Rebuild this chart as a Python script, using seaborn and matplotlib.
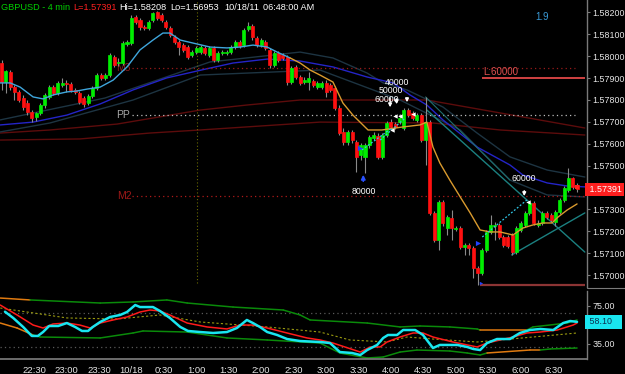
import matplotlib
matplotlib.use("Agg")
import matplotlib.pyplot as plt
import seaborn as sns
import pandas as pd

# ---------------- data ----------------
# 4-minute bars, bar 0 = 22:00
tick_pos = [7.5, 15, 22.5, 30, 37.5, 45, 52.5, 60, 67.5, 75, 82.5, 90, 97.5, 105, 112.5, 120, 127.5]
tick_labels = ["22:30", "23:00", "23:30", "10/18", "0:30", "1:00", "1:30", "2:00", "2:30",
               "3:00", "3:30", "4:00", "4:30", "5:00", "5:30", "6:00", "6:30"]
price_ticks = [1.570, 1.571, 1.572, 1.573, 1.574, 1.575, 1.576, 1.577, 1.578, 1.579, 1.580, 1.581, 1.582]

opens = [
    1.57969, 1.57882, 1.57928, 1.57859, 1.57837, 1.57809, 1.57786, 1.57745, 1.57722, 1.57741,
    1.57777, 1.57814, 1.57859, 1.57832, 1.57869, 1.57878, 1.57873, 1.57846, 1.57832, 1.57809,
    1.57786, 1.57818, 1.57855, 1.57914, 1.57901, 1.57914, 1.57997, 1.57969, 1.57969, 1.58056,
    1.58060, 1.58179, 1.58166, 1.58134, 1.58129, 1.58166, 1.58202, 1.58188, 1.58156, 1.58129,
    1.58088, 1.58065, 1.58051, 1.58042, 1.58006, 1.58019, 1.58019, 1.58038, 1.58006, 1.58038,
    1.57983, 1.58015, 1.58015, 1.58019, 1.58042, 1.58065, 1.58051, 1.58124, 1.58138, 1.58083,
    1.58051, 1.58065, 1.58029, 1.57960, 1.58015, 1.58006, 1.57997, 1.57882, 1.57951, 1.57905,
    1.57882, 1.57882, 1.57887, 1.57859, 1.57859, 1.57878, 1.57869, 1.57855, 1.57763, 1.57654,
    1.57608, 1.57654, 1.57608, 1.57549, 1.57540, 1.57594, 1.57626, 1.57636, 1.57540, 1.57640,
    1.57699, 1.57690, 1.57699, 1.57672, 1.57754, 1.57741, 1.57709, 1.57731, 1.57617, 1.57699,
    1.57284, 1.57160, 1.57334, 1.57215, 1.57261, 1.57210, 1.57215, 1.57128, 1.57137, 1.57124,
    1.57032, 1.57009, 1.57115, 1.57197, 1.57224, 1.57229, 1.57174, 1.57174, 1.57183, 1.57105,
    1.57206, 1.57229, 1.57284, 1.57329, 1.57229, 1.57238, 1.57284, 1.57275, 1.57242, 1.57288,
    1.57343, 1.57389, 1.57444, 1.57412]
highs = [
    1.57983, 1.57937, 1.57937, 1.57869, 1.57846, 1.57823, 1.57800, 1.57754, 1.57745, 1.57786,
    1.57832, 1.57869, 1.57869, 1.57887, 1.57901, 1.57891, 1.57882, 1.57855, 1.57841, 1.57818,
    1.57827, 1.57864, 1.57923, 1.57923, 1.57923, 1.58015, 1.58006, 1.57992, 1.58070, 1.58074,
    1.58188, 1.58188, 1.58175, 1.58143, 1.58166, 1.58202, 1.58208, 1.58198, 1.58166, 1.58138,
    1.58097, 1.58074, 1.58060, 1.58051, 1.58029, 1.58047, 1.58051, 1.58047, 1.58047, 1.58047,
    1.58024, 1.58029, 1.58029, 1.58051, 1.58074, 1.58074, 1.58129, 1.58156, 1.58147, 1.58092,
    1.58083, 1.58074, 1.58038, 1.58024, 1.58024, 1.58015, 1.58006, 1.57955, 1.57960, 1.57914,
    1.57905, 1.57928, 1.57896, 1.57887, 1.57887, 1.57891, 1.57878, 1.57864, 1.57777, 1.57672,
    1.57663, 1.57663, 1.57617, 1.57603, 1.57603, 1.57640, 1.57654, 1.57649, 1.57649, 1.57704,
    1.57713, 1.57699, 1.57736, 1.57763, 1.57763, 1.57750, 1.57741, 1.57741, 1.57814, 1.57709,
    1.57293, 1.57343, 1.57343, 1.57275, 1.57297, 1.57224, 1.57224, 1.57146, 1.57146, 1.57133,
    1.57041, 1.57124, 1.57206, 1.57275, 1.57242, 1.57238, 1.57183, 1.57183, 1.57192, 1.57224,
    1.57247, 1.57293, 1.57338, 1.57338, 1.57252, 1.57293, 1.57293, 1.57284, 1.57297, 1.57352,
    1.57407, 1.57489, 1.57449, 1.57421]
lows = [
    1.57846, 1.57832, 1.57846, 1.57800, 1.57791, 1.57754, 1.57731, 1.57699, 1.57704, 1.57731,
    1.57763, 1.57805, 1.57823, 1.57823, 1.57859, 1.57837, 1.57837, 1.57827, 1.57782, 1.57768,
    1.57777, 1.57809, 1.57846, 1.57891, 1.57891, 1.57905, 1.57951, 1.57955, 1.57960, 1.58047,
    1.58051, 1.58147, 1.58120, 1.58120, 1.58120, 1.58156, 1.58166, 1.58156, 1.58124, 1.58088,
    1.58056, 1.58006, 1.58019, 1.57987, 1.57997, 1.58010, 1.58010, 1.58006, 1.57997, 1.57974,
    1.57974, 1.58006, 1.58006, 1.58010, 1.58033, 1.58038, 1.58042, 1.58115, 1.58074, 1.58042,
    1.58042, 1.58029, 1.57946, 1.57951, 1.57974, 1.57983, 1.57869, 1.57873, 1.57896, 1.57869,
    1.57873, 1.57846, 1.57859, 1.57850, 1.57850, 1.57814, 1.57837, 1.57754, 1.57640, 1.57594,
    1.57594, 1.57603, 1.57471, 1.57526, 1.57466, 1.57581, 1.57617, 1.57530, 1.57530, 1.57631,
    1.57668, 1.57668, 1.57690, 1.57663, 1.57722, 1.57709, 1.57699, 1.57608, 1.57503, 1.57275,
    1.57151, 1.57115, 1.57224, 1.57183, 1.57160, 1.57201, 1.57119, 1.57092, 1.57092, 1.56987,
    1.56953, 1.57000, 1.57105, 1.57188, 1.57160, 1.57165, 1.57128, 1.57124, 1.57092, 1.57096,
    1.57197, 1.57220, 1.57275, 1.57229, 1.57220, 1.57229, 1.57256, 1.57242, 1.57224, 1.57279,
    1.57334, 1.57380, 1.57393, 1.57380]
closes = [
    1.57882, 1.57933, 1.57859, 1.57837, 1.57800, 1.57768, 1.57745, 1.57718, 1.57741, 1.57777,
    1.57823, 1.57859, 1.57832, 1.57878, 1.57878, 1.57873, 1.57846, 1.57837, 1.57791, 1.57782,
    1.57818, 1.57855, 1.57914, 1.57901, 1.57914, 1.58006, 1.57960, 1.57974, 1.58060, 1.58065,
    1.58175, 1.58156, 1.58134, 1.58129, 1.58156, 1.58198, 1.58175, 1.58166, 1.58134, 1.58097,
    1.58065, 1.58042, 1.58029, 1.57997, 1.58019, 1.58038, 1.58042, 1.58015, 1.58038, 1.57983,
    1.58015, 1.58019, 1.58019, 1.58042, 1.58065, 1.58047, 1.58120, 1.58138, 1.58088, 1.58051,
    1.58074, 1.58038, 1.57960, 1.58015, 1.57983, 1.57992, 1.57882, 1.57946, 1.57905, 1.57878,
    1.57891, 1.57901, 1.57869, 1.57878, 1.57878, 1.57837, 1.57846, 1.57763, 1.57649, 1.57608,
    1.57654, 1.57617, 1.57540, 1.57594, 1.57594, 1.57631, 1.57640, 1.57540, 1.57640, 1.57695,
    1.57677, 1.57677, 1.57718, 1.57754, 1.57731, 1.57718, 1.57731, 1.57617, 1.57699, 1.57284,
    1.57160, 1.57334, 1.57238, 1.57265, 1.57215, 1.57215, 1.57128, 1.57137, 1.57124, 1.57032,
    1.57009, 1.57115, 1.57197, 1.57229, 1.57229, 1.57174, 1.57137, 1.57133, 1.57105, 1.57215,
    1.57238, 1.57284, 1.57329, 1.57238, 1.57238, 1.57284, 1.57265, 1.57252, 1.57288, 1.57343,
    1.57398, 1.57444, 1.57402, 1.57391]

# moving averages / bands (bar index, price)
ma_fast_up_x = [-0.3, 2.0, 4.3, 7.3, 9.6, 11.9, 15.1, 17.4, 19.8, 22.8, 25.8, 29.0, 32.0, 35.0,
                37.3, 38.9, 41.3, 44.3, 48.2, 52.1, 55.1, 58.1, 61.4, 63.7, 66.7]
ma_fast_up_y = [1.57878, 1.57878, 1.57859, 1.57814, 1.57805, 1.57823, 1.57837, 1.57841, 1.57850,
                1.57859, 1.57891, 1.57951, 1.58029, 1.58074, 1.58106, 1.58106, 1.58074, 1.58060,
                1.58042, 1.58038, 1.58042, 1.58051, 1.58042, 1.58019, 1.57992]
ma_fast_dn_x = [66.7, 69.0, 71.3, 73.6, 76.6, 78.9, 81.2, 84.7, 87.9, 92.8, 96.7, 98.3, 99.7, 101.3,
                103.6, 106.0, 108.3, 110.6, 112.9, 115.2, 118.2, 120.5, 122.8, 125.1, 127.2, 128.6,
                130.7, 133.0]
ma_fast_dn_y = [1.57992, 1.57969, 1.57937, 1.57914, 1.57882, 1.57786, 1.57731, 1.57663, 1.57663,
                1.57677, 1.57686, 1.57699, 1.57585, 1.57512, 1.57434, 1.57357, 1.57284, 1.57206,
                1.57197, 1.57197, 1.57183, 1.57215, 1.57229, 1.57238, 1.57238, 1.57265, 1.57297,
                1.57325]
ma_mid_x = [-0.3, 7.3, 15.1, 22.8, 30.4, 38.2, 48.2, 53.5, 61.4, 69.0, 76.6, 84.5, 90.5, 94.4, 98.3,
            102.0, 109.9, 117.5, 120.5, 126.1, 130.7, 134.8]
ma_mid_y = [1.57686, 1.57699, 1.57731, 1.57782, 1.57846, 1.57901, 1.57946, 1.57969, 1.57987, 1.57978,
            1.57951, 1.57905, 1.57878, 1.57823, 1.57777, 1.57709, 1.57585, 1.57503, 1.57457, 1.57421,
            1.57407, 1.57403]
band_up_x = [-0.3, 23.9, 48.2, 69.0, 76.6, 84.5, 88.2, 93.7, 102.0, 109.9, 117.5, 126.1, 134.8]
band_up_y = [1.57709, 1.57809, 1.57974, 1.58019, 1.57992, 1.57923, 1.57878, 1.57846, 1.57768, 1.57649,
             1.57540, 1.57480, 1.57448]
band_lo_x = [-0.3, 11.2, 30.4, 45.9, 73.6, 92.1, 106.0, 117.5, 126.1, 134.8]
band_lo_y = [1.57654, 1.57695, 1.57800, 1.57914, 1.57937, 1.57800, 1.57663, 1.57434, 1.57366, 1.57357]
slow1_x = [-0.3, 11.2, 26.7, 45.9, 56.7, 69.0, 98.3, 115.2, 134.8]
slow1_y = [1.57649, 1.57663, 1.57690, 1.57754, 1.57777, 1.57800, 1.57800, 1.57741, 1.57672]
slow2_x = [-0.3, 18.1, 34.3, 45.9, 73.6, 99.7, 115.2, 134.8]
slow2_y = [1.57617, 1.57622, 1.57649, 1.57663, 1.57699, 1.57695, 1.57663, 1.57640]

# pivot levels
level_m3 = 1.57946
level_pp = 1.57731
level_m2 = 1.57359
level_stop = 1.57901
level_low = 1.56955
last_price = 1.57391

# oscillator pane (bar index, value)
osc_x = [0.8, 2.7, 5.0, 7.0, 8.4, 9.6, 11.0, 13.1, 15.1, 17.0, 18.6, 20.0, 21.1, 22.8, 25.1, 27.4,
         29.0, 30.9, 32.0, 35.0, 36.6, 38.9, 41.3, 43.1, 45.9, 48.9, 52.1, 54.4, 56.7, 58.1, 59.7,
         61.4, 63.7, 66.0, 69.0, 73.6, 75.9, 78.2, 81.0, 82.9, 84.5, 86.8, 88.2, 89.3, 91.4, 92.8,
         95.6, 97.4, 99.7, 101.3, 105.3, 107.6, 109.0, 110.6, 112.2, 114.5, 117.5, 119.8, 122.1,
         124.5, 127.5, 129.8, 131.4, 133.0]
osc_y = [68.7, 62.2, 52.8, 43.4, 43.4, 47.5, 53.8, 53.8, 56.9, 52.8, 48.6, 48.6, 52.8, 58.0, 63.2,
         65.3, 68.4, 75.7, 73.6, 73.6, 69.5, 62.2, 52.8, 48.6, 47.5, 46.5, 47.5, 51.7, 60.1, 56.9,
         52.8, 47.5, 44.4, 40.2, 38.1, 37.1, 36.0, 26.6, 25.6, 23.5, 28.7, 34.0, 41.3, 44.4, 44.4,
         49.6, 49.6, 44.4, 30.8, 34.0, 34.0, 31.9, 29.8, 28.7, 36.0, 40.2, 40.2, 46.5, 49.6, 50.7,
         49.6, 56.9, 59.0, 58.1]
sig_x = [-0.3, 3.6, 7.3, 9.6, 11.9, 15.1, 18.1, 20.5, 22.8, 25.8, 29.0, 32.0, 34.3, 36.6, 38.9, 42.9,
         47.5, 52.1, 55.1, 58.1, 61.4, 66.0, 70.6, 73.6, 76.6, 82.9, 85.2, 87.5, 89.1, 92.1, 95.1,
         97.4, 99.7, 104.3, 109.9, 112.2, 115.2, 118.2, 121.4, 124.5, 128.4, 132.1, 133.0]
sig_y = [75.7, 65.3, 54.8, 51.7, 55.9, 56.9, 54.8, 51.7, 56.9, 60.1, 63.2, 68.4, 70.5, 69.5, 65.3,
         56.9, 52.8, 50.7, 54.8, 54.8, 51.7, 46.5, 41.3, 39.2, 36.0, 26.6, 31.9, 31.9, 37.1, 42.3,
         46.5, 46.5, 42.3, 37.1, 31.9, 36.0, 39.2, 42.3, 46.5, 47.5, 49.6, 54.8, 56.9]
obb_up_x = [-0.3, 6.6, 22.8, 30.4, 38.2, 42.9, 53.5, 65.1, 69.0, 71.3, 84.5, 92.1, 96.7, 103.6,
            109.9, 110.6, 121.4, 122.8, 130.7, 133.0]
obb_up_y = [83.0, 81.0, 77.8, 78.9, 81.0, 77.8, 73.6, 70.5, 65.3, 60.1, 56.9, 52.8, 53.8, 52.8,
            50.7, 49.6, 49.6, 52.8, 56.9, 60.1]
obb_up_col = ["o", "g", "g", "g", "g", "g", "g", "g", "g", "g", "g", "g", "g", "g", "g", "o", "g",
              "g", "g", "g"]
obb_lo_x = [-0.3, 3.6, 7.3, 8.9, 22.8, 30.4, 32.7, 42.9, 52.1, 61.4, 73.6, 78.2, 84.5, 88.2, 92.1,
            96.0, 103.6, 107.6, 110.6, 112.2, 122.1, 124.5, 126.8, 133.0]
obb_lo_y = [56.9, 51.7, 44.4, 42.3, 41.3, 46.5, 48.6, 47.5, 41.3, 39.2, 36.0, 25.6, 20.4, 21.4, 26.6,
            28.7, 27.7, 25.6, 23.5, 25.6, 28.7, 28.7, 29.8, 30.8]
obb_lo_col = ["o", "o", "g", "g", "g", "g", "g", "g", "g", "g", "g", "g", "g", "g", "g", "g", "g",
              "g", "g", "o", "o", "g", "g", "g"]
obb_mid_x = [-0.3, 15.1, 26.7, 36.6, 45.9, 61.4, 73.6, 80.5, 89.1, 93.7, 99.7, 109.9, 115.2, 122.8, 133.0]
obb_mid_y = [72.6, 62.2, 61.1, 65.3, 58.0, 52.8, 47.5, 39.2, 37.1, 42.3, 40.2, 37.1, 39.2, 42.3, 46.5]
osc_levels = [67.0, 32.2]
osc_ticks = [35, 75]
osc_last = 58.10

# ---------------- style ----------------
sns.set_theme(style="dark")
plt.rcParams["font.family"] = ["Liberation Sans", "DejaVu Sans"]
BG = "#000000"
GRID = "#7a7a7a"
TXT = "#e6e6e6"
AXFS = 6.4

W, H = 625, 374
fig = plt.figure(figsize=(6.25, 3.74), dpi=100, facecolor=BG)


def rect(l, t, r, b):
    return [l / W, 1 - b / H, (r - l) / W, (b - t) / H]


ax1 = fig.add_axes(rect(0, 0, 587, 287))
ax2 = fig.add_axes(rect(0, 291, 587, 359), sharex=ax1)
for ax in (ax1, ax2):
    ax.set_facecolor(BG)
    ax.grid(False)
    for s in ax.spines.values():
        s.set_visible(False)
    ax.spines["right"].set_visible(True)
    ax.spines["right"].set_color(GRID)
    ax.spines["right"].set_linewidth(1)
ax2.spines["bottom"].set_visible(True)
ax2.spines["bottom"].set_color(GRID)

XMIN, XMAX = -0.35, 135.3
ax1.set_xlim(XMIN, XMAX)
ax1.set_ylim(1.569454, 1.582570)
ax2.set_ylim(19.33, 90.35)

# ---------------- main pane ----------------
sns.lineplot(x=slow1_x, y=slow1_y, ax=ax1, color="#5c0c0c", lw=1.0, sort=False, estimator=None)
sns.lineplot(x=slow2_x, y=slow2_y, ax=ax1, color="#5c0c0c", lw=1.0, sort=False, estimator=None)
sns.lineplot(x=band_up_x, y=band_up_y, ax=ax1, color="#1d3442", lw=1.0, sort=False, estimator=None)
sns.lineplot(x=band_lo_x, y=band_lo_y, ax=ax1, color="#1d3442", lw=1.0, sort=False, estimator=None)
sns.lineplot(x=ma_mid_x, y=ma_mid_y, ax=ax1, color="#2424c8", lw=1.0, sort=False, estimator=None)

ax1.hlines(level_m3, 30.2, 132.5, colors="#9a1a1a", linestyles=(0, (1, 2.5)), lw=0.9)
ax1.hlines(level_pp, 30.2, 132.5, colors="#bdbdbd", linestyles=(0, (1, 2.5)), lw=0.9)
ax1.hlines(level_m2, 30.2, XMAX, colors="#b01a1a", linestyles=(0, (1, 2.5)), lw=0.9)
ax1.vlines(45.2, 1.56962, 1.58257, colors="#6a6a00", linestyles=(0, (1, 2)), lw=0.8)
ax1.text(26.6, level_m3, "M3", color="#8b1c1c", fontsize=7.5, va="center", ha="left", zorder=2)
ax1.text(26.6, level_pp, "PP", color="#a8a8a8", fontsize=7.5, va="center", ha="left")
ax1.text(26.8, level_m2, "M2", color="#a01818", fontsize=7.5, va="center", ha="left")

ax1.plot([98.3, 134.8], [1.57754, 1.57105], color="#1b8080", lw=1.0)
ax1.plot([98.0, 117.5], [1.57814, 1.57434], color="#1f6f6f", lw=0.8)
ax1.plot([117.9, 134.8], [1.57092, 1.57284], color="#1b8080", lw=1.0)

xs = list(range(len(closes)))
up = [c >= o for o, c in zip(opens, closes)]
ax1.vlines(xs, lows, highs, colors="#8a8a8a", lw=0.8, zorder=3)
bottoms = [min(o, c) for o, c in zip(opens, closes)]
heights = [abs(c - o) for o, c in zip(opens, closes)]
cols = ["#00ee00" if u else "#ff1010" for u in up]
ax1.bar(xs, heights, bottom=bottoms, width=0.7, color=cols, edgecolor=cols, linewidth=0.5, zorder=4)

sns.lineplot(x=ma_fast_up_x, y=ma_fast_up_y, ax=ax1, color="#3fa6dc", lw=1.0, sort=False,
             estimator=None, zorder=5)
sns.lineplot(x=ma_fast_dn_x, y=ma_fast_dn_y, ax=ax1, color="#d99a2e", lw=1.0, sort=False,
             estimator=None, zorder=5)

ax1.hlines(level_stop, 111.0, 134.8, colors="#e04848", lw=1.3, zorder=5)
ax1.text(111.3, 1.57928, "L:60000", color="#e05050", fontsize=7, va="center", ha="left")
ax1.hlines(level_low, 110.6, 134.8, colors="#8c3434", lw=1.6, zorder=5)

ax1.plot([83.3, 90.2], [1.57572, 1.57672], color="#30c8e8", lw=0.9, ls=(0, (1.5, 1.5)), zorder=6)
ax1.plot([87.5, 93.3], [1.57617, 1.57718], color="#30c8e8", lw=0.9, ls=(0, (1.5, 1.5)), zorder=6)
ax1.plot([111.1, 121.4], [1.57174, 1.57343], color="#30c8e8", lw=0.9, ls=(0, (1.5, 1.5)), zorder=6)
for xa, yh, yt in [(89.8, 1.57754, 1.57823), (91.3, 1.57768, 1.57818), (93.7, 1.57777, 1.57823),
                   (120.8, 1.57348, 1.57398)]:
    ax1.annotate("", xy=(xa, yh), xytext=(xa, yt),
                 arrowprops=dict(arrowstyle="-|>", color="white", lw=1.0, mutation_scale=5), zorder=7)
ax1.annotate("", xy=(83.6, 1.57471), xytext=(83.6, 1.57416),
             arrowprops=dict(arrowstyle="-|>", color="#2850ff", lw=1.2, mutation_scale=6), zorder=7)
ax1.scatter([90.9, 92.0, 95.0, 90.2, 121.6], [1.57727, 1.57727, 1.57736, 1.57663, 1.57334],
            marker="<", s=10, color="white", zorder=7, linewidths=0)
ax1.scatter([82.9, 110.1], [1.57581, 1.57146], marker=">", s=14, color="#2040ff", zorder=7, linewidths=0)
ax1.scatter([110.8], [1.56964], marker=">", s=6, color="#2040ff", zorder=7, linewidths=0)
ax1.scatter([133.0], [1.57403], marker="s", s=8, color="#ff2020", zorder=8, linewidths=0)
for tx, ty, lab in [(91.4, 1.57882, "40000"), (90.0, 1.57844, "50000"), (89.1, 1.57800, "60000"),
                    (83.8, 1.57384, "80000"), (120.7, 1.57439, "60000")]:
    ax1.text(tx, ty, lab, color="white", fontsize=6.3, ha="center", va="center", zorder=8)
ax1.text(123.3, 1.58179, "1.9", color="#3a9ad6", fontsize=7, ha="left", va="center")

ax1.yaxis.tick_right()
ax1.set_yticks(price_ticks)
ax1.set_yticklabels(["" if abs(p - 1.574) < 1e-9 else f"{p:.5f}" for p in price_ticks])
ax1.tick_params(axis="y", colors=GRID, labelcolor=TXT, labelsize=AXFS, length=2.5, width=0.8, pad=1.5,
                direction="out")
ax1.tick_params(axis="x", bottom=False, labelbottom=False)
ax1.set_xlabel("")
ax1.set_ylabel("")
ax1.text(1.0, last_price, f" {last_price:.5f}", transform=ax1.get_yaxis_transform(), color="white",
         fontsize=AXFS, ha="left", va="center", clip_on=False, zorder=10,
         bbox=dict(boxstyle="square,pad=0.25", fc="#ff1f1f", ec="none"))

# ---------------- oscillator pane ----------------
for lv in osc_levels:
    ax2.hlines(lv, XMIN, 132.5, colors="#5a5a5a", linestyles=(0, (1, 2.5)), lw=0.9)
sns.lineplot(x=obb_mid_x, y=obb_mid_y, ax=ax2, color="#9a9a10", lw=0.8, ls=(0, (2, 2)), sort=False,
             estimator=None)


def seg_plot(xv, yv, cv):
    for i in range(len(xv) - 1):
        c = "#e07a10" if cv[i] == "o" else "#0a8a0a"
        sns.lineplot(x=xv[i:i + 2], y=yv[i:i + 2], ax=ax2, color=c, lw=1.1, sort=False, estimator=None)


seg_plot(obb_up_x, obb_up_y, obb_up_col)
seg_plot(obb_lo_x, obb_lo_y, obb_lo_col)
sns.lineplot(x=sig_x, y=sig_y, ax=ax2, color="#ff1a1a", lw=1.1, sort=False, estimator=None)
sns.lineplot(x=osc_x, y=osc_y, ax=ax2, color="#19e6f0", lw=1.8, sort=False, estimator=None)

ax2.yaxis.tick_right()
ax2.set_yticks(osc_ticks)
ax2.set_yticklabels([f"{v:.2f}" for v in osc_ticks])
ax2.tick_params(axis="y", colors=GRID, labelcolor=TXT, labelsize=AXFS, length=2.5, width=0.8, pad=1.5)
ax2.set_xticks(tick_pos)
ax2.set_xticklabels(tick_labels)
ax2.tick_params(axis="x", colors=GRID, labelcolor=TXT, labelsize=6.8, length=3, width=0.8, pad=2)
ax2.set_xlabel("")
ax2.set_ylabel("")
ax2.text(1.0, osc_last, f" {osc_last:.2f}   ", transform=ax2.get_yaxis_transform(), color="#0a3050",
         fontsize=AXFS, ha="left", va="center", clip_on=False, zorder=10,
         bbox=dict(boxstyle="square,pad=0.25", fc="#19e6f0", ec="none"))

fig.add_artist(plt.Line2D([587 / W, 1.0], [1 - 287.5 / H, 1 - 287.5 / H], color=GRID, lw=0.8))

# ---------------- header ----------------
hy = 1 - 7.5 / H
for xp, txt, col in [(1, "GBPUSD - 4 min", "#00d000"), (73, "L=1.57391", "#ff2020"),
                     (119, "Hi=1.58208", "white"), (170, "Lo=1.56953", "white"),
                     (224, "10/18/11", "white"), (263, "06:48:00 AM", "white")]:
    fig.text(xp / W, hy, txt, color=col, fontsize=6.6, ha="left", va="center")

fig.savefig("out.png", dpi=100, facecolor=BG)
